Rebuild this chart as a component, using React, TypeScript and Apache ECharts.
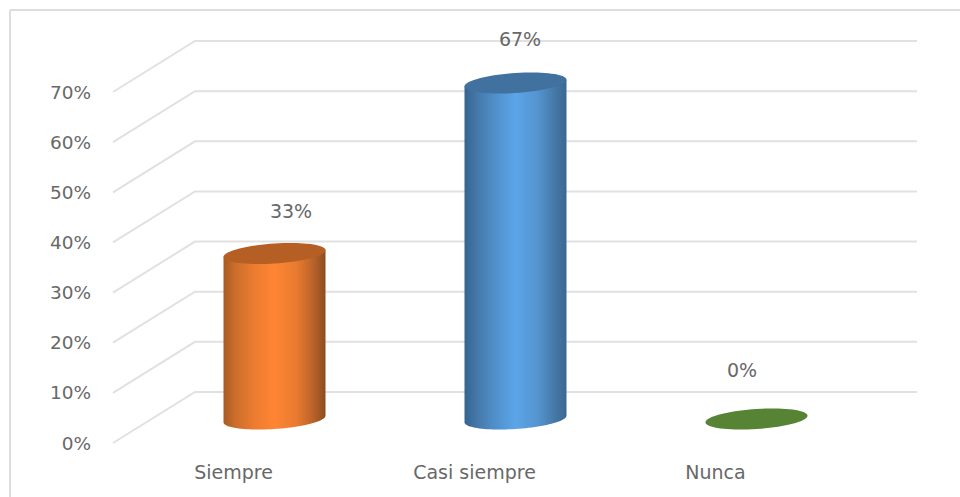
import React, { useEffect, useRef } from "react";
import * as echarts from "echarts";

const categories = ["Siempre", "Casi siempre", "Nunca"];
const values = [33, 67, 0];
const valueLabels = ["33%", "67%", "0%"];
const ticks = [0, 10, 20, 30, 40, 50, 60, 70];

const gradientOffsets = [0, 0.12, 0.3, 0.5, 0.72, 0.88, 1];
const orangeSide = ["#A85A22", "#CC6E2C", "#EC7C30", "#FF8533", "#E87A2F", "#B9632A", "#8C4C1E"];
const blueSide = ["#36648F", "#4478A8", "#5090CA", "#5BA5E8", "#5494D0", "#4679A8", "#3A6890"];
const greenSide = ["#548235", "#548235", "#548235", "#548235", "#548235", "#548235", "#548235"];
const sideColors = [orangeSide, blueSide, greenSide];
const capColors = ["#B55F24", "#41729F", "#568334"];
const labelOffsets = [
  [16.5, -43],
  [4.5, -44],
  [-14.5, -49],
];

const FONT = "DejaVu Sans";
const TEXT = "#686868";
const GRID = "#E1E1E1";
const DEPTH_X = 82;
const DEPTH_Y = 51;
const RX = 51;
const SHEAR = 3.3;
const RY = 10;

function ellipseArc(cx: number, cy: number, from: number, to: number, n: number) {
  const pts: number[][] = [];
  for (let i = 0; i <= n; i++) {
    const t = from + ((to - from) * i) / n;
    pts.push([cx + RX * Math.cos(t), cy - SHEAR * Math.cos(t) + RY * Math.sin(t)]);
  }
  return pts;
}

export default function App() {
  const ref = useRef<HTMLDivElement>(null);
  useEffect(() => {
    const chart = echarts.init(ref.current!, null, { renderer: "svg", width: 960, height: 497 });
    chart.setOption({
      animation: false,
      backgroundColor: "#FFFFFF",
      graphic: [
        { type: "line", shape: { x1: 10, y1: 10, x2: 960, y2: 10 }, style: { stroke: "#DDDDDD", lineWidth: 2 } },
        { type: "line", shape: { x1: 10, y1: 10, x2: 10, y2: 497 }, style: { stroke: "#DDDDDD", lineWidth: 2 } },
      ],
      grid: { left: 113, top: 92, width: 723, height: 351 },
      xAxis: {
        type: "category",
        data: categories,
        axisLine: { show: false },
        axisTick: { show: false },
        axisLabel: { color: TEXT, fontFamily: FONT, fontSize: 19, margin: 19 },
      },
      yAxis: {
        type: "value",
        min: 0,
        max: 70,
        interval: 10,
        splitLine: { show: false },
        axisLine: { show: false },
        axisTick: { show: false },
        axisLabel: { formatter: "{value}%", color: TEXT, fontFamily: FONT, fontSize: 18.5, margin: 22, padding: [2, 0, 0, 0] },
      },
      series: [
        {
          type: "custom",
          z: 1,
          clip: false,
          silent: true,
          data: ticks.map((t) => [0, t]),
          renderItem: (params: any, api: any) => {
            const y = api.coord([0, api.value(1)])[1];
            const cs = params.coordSys;
            return {
              type: "polyline",
              shape: {
                points: [
                  [cs.x, y],
                  [cs.x + DEPTH_X, y - DEPTH_Y],
                  [cs.x + cs.width + 81, y - DEPTH_Y],
                ],
              },
              style: { stroke: GRID, lineWidth: 2, fill: "none" },
            };
          },
        },
        {
          type: "custom",
          z: 2,
          clip: false,
          silent: true,
          data: categories.map((_, i) => [i, values[i]]),
          renderItem: (params: any, api: any) => {
            const i = params.dataIndex;
            const top = api.coord([i, api.value(1)]);
            const base = api.coord([i, 0]);
            const cx = top[0] + DEPTH_X / 2;
            const topCy = top[1] - 24;
            const baseCy = base[1] - 24;
            const children: any[] = [];
            if (values[i] > 0) {
              children.push({
                type: "polygon",
                shape: {
                  points: [
                    [cx + RX, topCy - SHEAR],
                    [cx - RX, topCy + SHEAR],
                    ...ellipseArc(cx, baseCy, Math.PI, 0, 48),
                  ],
                },
                style: {
                  fill: {
                    type: "linear",
                    x: 0,
                    y: 0,
                    x2: 1,
                    y2: 0,
                    colorStops: gradientOffsets.map((offset, k) => ({ offset, color: sideColors[i][k] })),
                  },
                },
              });
            }
            children.push({
              type: "polygon",
              shape: { points: ellipseArc(cx, topCy, 0, Math.PI * 2, 72) },
              style: { fill: capColors[i] },
            });
            children.push({
              type: "text",
              style: {
                text: valueLabels[i],
                x: cx + labelOffsets[i][0],
                y: topCy + labelOffsets[i][1],
                align: "center",
                verticalAlign: "middle",
                fontFamily: FONT,
                fontSize: 19,
                fill: TEXT,
              },
            });
            return { type: "group", children };
          },
        },
      ],
    });
    return () => chart.dispose();
  }, []);
  return <div ref={ref} style={{ position: "absolute", left: 0, top: 0, width: 960, height: 497 }} />;
}
